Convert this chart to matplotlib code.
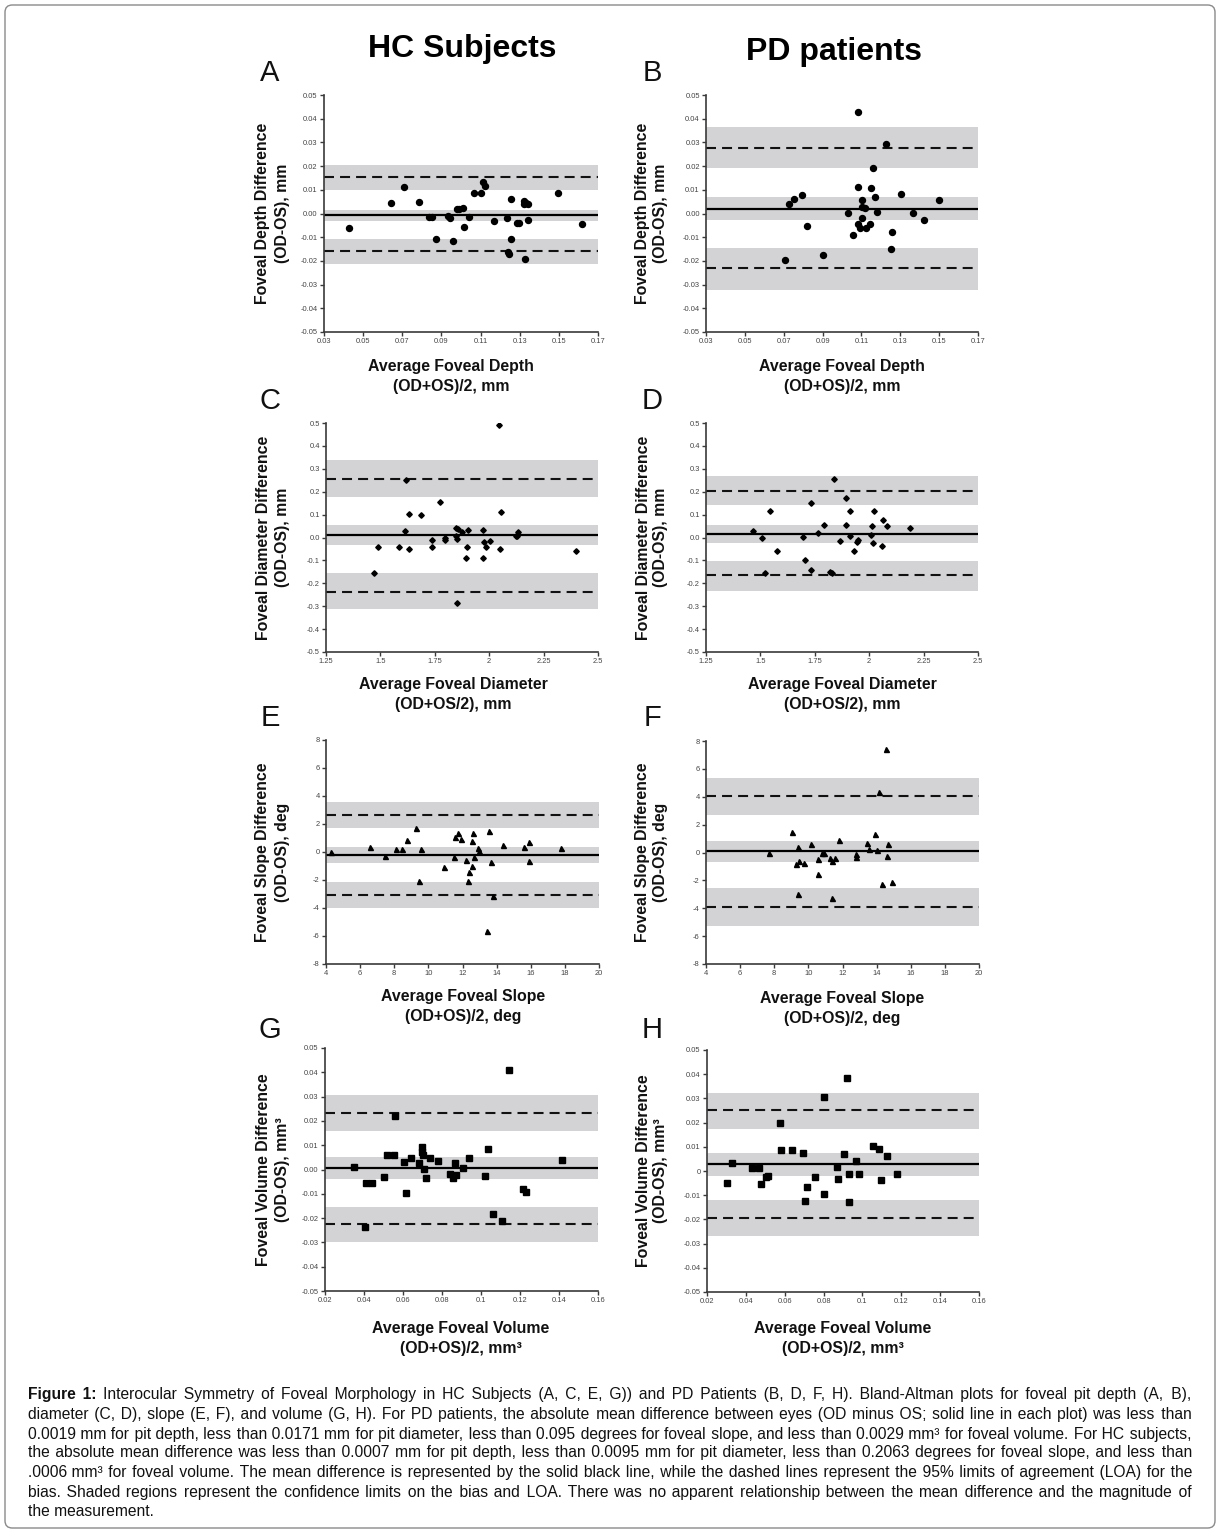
import matplotlib
matplotlib.use("Agg")
import matplotlib.pyplot as plt
from matplotlib.patches import FancyBboxPatch

plt.rcParams['font.family'] = ['Liberation Sans', 'DejaVu Sans']

# ---------------- data ----------------
hc_depth_x = [0.0428, 0.0641, 0.0711, 0.0784, 0.0837, 0.0852, 0.0871, 0.0934, 0.0945, 0.0958, 0.0982, 0.0992,
              0.1008, 0.1013, 0.1042, 0.1066, 0.1103, 0.1112, 0.1124, 0.1171, 0.1234, 0.1238, 0.1245, 0.1257,
              0.1258, 0.1286, 0.1296, 0.1320, 0.1323, 0.1333, 0.1342, 0.1326, 0.1342, 0.1494, 0.1618]
hc_depth_y = [-0.0063, 0.0046, 0.0113, 0.0048, -0.0014, -0.0014, -0.0106, -0.0011, -0.0018, -0.0117, 0.0020, 0.0020,
              0.0023, -0.0056, -0.0014, 0.0087, 0.0087, 0.0132, 0.0118, -0.0032, -0.0021, -0.0162, -0.0169, 0.0063,
              -0.0106, -0.0042, -0.0038, 0.0054, 0.0039, 0.0045, 0.0042, -0.0193, -0.0028, 0.0085, -0.0045]
hc_depth_bands = dict(up=(0.0099, 0.0203), loa_up=0.0152, mean=-0.0007, mid=(-0.0033, 0.0016),
                      loa_lo=-0.0160, lo=(-0.0213, -0.0108))

pd_depth_x = [0.0706, 0.0729, 0.0753, 0.0794, 0.0818, 0.0901, 0.1033, 0.1055, 0.1081, 0.1084, 0.1084, 0.1091,
              0.1103, 0.1103, 0.1103, 0.1120, 0.1125, 0.1144, 0.1149, 0.1159, 0.1171, 0.1180, 0.1226, 0.1252,
              0.1258, 0.1306, 0.1368, 0.1422, 0.1499]
pd_depth_y = [-0.0197, 0.0042, 0.0063, 0.0079, -0.0052, -0.0173, 0.0003, -0.0090, -0.0045, 0.0113, 0.0430, -0.0062,
              0.0056, 0.0028, -0.0017, 0.0025, -0.0062, -0.0045, 0.0107, 0.0190, 0.0068, 0.0006, 0.0293, -0.0151,
              -0.0079, 0.0082, 0.0003, -0.0028, 0.0059]
pd_depth_bands = dict(up=(0.0192, 0.0363), loa_up=0.0277, mean=0.0019, mid=(-0.0027, 0.0068),
                      loa_lo=-0.0232, lo=(-0.0322, -0.0146))

hc_diam_x = [1.469, 1.489, 1.587, 1.612, 1.619, 1.631, 1.631, 1.685, 1.738, 1.738, 1.772, 1.796, 1.799, 1.847,
             1.847, 1.851, 1.851, 1.857, 1.874, 1.895, 1.900, 1.903, 1.972, 1.972, 1.975, 1.984, 2.003, 2.047,
             2.049, 2.054, 2.125, 2.130, 2.131, 2.400]
hc_diam_y = [-0.155, -0.043, -0.040, 0.030, 0.252, 0.103, -0.052, 0.100, -0.012, -0.041, 0.154, -0.009, -0.002, 0.005,
             0.042, -0.005, -0.286, 0.037, 0.022, -0.091, -0.041, 0.031, 0.034, -0.088, -0.018, -0.041, -0.015, 0.491,
             -0.050, 0.113, 0.005, 0.008, 0.025, -0.060]
hc_diam_bands = dict(up=(0.178, 0.337), loa_up=0.255, mean=0.0095, mid=(-0.034, 0.053),
                     loa_lo=-0.238, lo=(-0.313, -0.155))

pd_diam_x = [1.466, 1.509, 1.523, 1.544, 1.578, 1.694, 1.705, 1.732, 1.732, 1.766, 1.791, 1.820, 1.828, 1.839,
             1.867, 1.893, 1.893, 1.912, 1.913, 1.932, 1.943, 1.947, 2.009, 2.015, 2.018, 2.022, 2.061, 2.065,
             2.080, 2.186]
pd_diam_y = [0.027, -0.004, -0.155, 0.117, -0.060, 0.001, -0.100, -0.140, 0.151, 0.020, 0.055, -0.151, -0.157, 0.2555,
             -0.014, 0.174, 0.055, 0.005, 0.117, -0.057, -0.021, -0.009, 0.012, 0.052, -0.024, 0.117, -0.039, 0.078,
             0.049, 0.040]
pd_diam_bands = dict(up=(0.140, 0.270), loa_up=0.2045, mean=0.0171, mid=(-0.023, 0.056),
                     loa_lo=-0.165, lo=(-0.233, -0.104))

hc_slope_x = [4.31, 6.60, 7.46, 8.11, 8.47, 8.77, 9.26, 9.44, 9.59, 10.89, 11.53, 11.56, 11.72, 11.89, 12.19, 12.35,
              12.41, 12.55, 12.58, 12.60, 12.68, 12.88, 12.97, 13.41, 13.58, 13.68, 13.78, 14.40, 15.62, 15.89,
              15.87, 17.77]
hc_slope_y = [0.0, 0.37, -0.27, 0.20, 0.18, 0.85, 1.75, -2.06, 0.25, -1.1, -0.39, 1.08, 1.35, 0.96, -0.58, -2.06,
              -1.44, -1.03, 0.8, 1.35, -0.39, 0.28, 0.09, -5.65, 1.53, -0.68, -3.17, 0.49, 0.37, 0.75,
              -0.63, 0.32]
hc_slope_bands = dict(up=(1.75, 3.6), loa_up=2.65, mean=-0.2063, mid=(-0.75, 0.37),
                      loa_lo=-3.08, lo=(-4.0, -2.14))

pd_slope_x = [7.72, 9.05, 9.27, 9.41, 9.41, 9.47, 9.74, 10.13, 10.54, 10.58, 10.79, 10.93, 11.28, 11.36, 11.40,
              11.55, 11.81, 12.81, 12.81, 13.41, 13.55, 13.88, 14.02, 14.12, 14.30, 14.53, 14.61, 14.65, 14.90]
pd_slope_y = [0.0, 1.45, -0.83, 0.40, -3.0, -0.6, -0.74, 0.64, -0.48, -1.55, 0.0, 0.0, -0.38, -0.6, -3.29,
              -0.38, 0.88, -0.12, -0.29, 0.71, 0.26, 1.33, 0.17, 4.36, -2.29, 7.43, -0.26, 0.64, -2.14]
pd_slope_bands = dict(up=(2.71, 5.38), loa_up=4.05, mean=0.095, mid=(-0.71, 0.83),
                      loa_lo=-3.90, lo=(-5.24, -2.57))

hc_vol_x = [0.0347, 0.0404, 0.0412, 0.0443, 0.0503, 0.0520, 0.0555, 0.0560, 0.0603, 0.0613, 0.0640, 0.0680,
            0.0695, 0.0697, 0.0702, 0.0707, 0.0716, 0.0738, 0.0778, 0.0841, 0.0855, 0.0868, 0.0870, 0.0909,
            0.0939, 0.1019, 0.1034, 0.1062, 0.1110, 0.1142, 0.1214, 0.1232, 0.1417]
hc_vol_y = [0.0010, -0.0237, -0.0054, -0.0057, -0.0032, 0.0061, 0.0061, 0.0222, 0.0031, -0.0096, 0.0047, 0.0028,
            0.0092, 0.0071, 0.0061, 0.0003, -0.0034, 0.0047, 0.0036, -0.0020, -0.0035, 0.0028, -0.0022, 0.0006,
            0.0047, -0.0027, 0.0086, -0.0182, -0.0212, 0.0408, -0.0080, -0.0091, 0.0039]
hc_vol_bands = dict(up=(0.0160, 0.0307), loa_up=0.0234, mean=0.0005, mid=(-0.0039, 0.0050),
                    loa_lo=-0.0224, lo=(-0.0298, -0.0155))

pd_vol_x = [0.0303, 0.0328, 0.0433, 0.0469, 0.0476, 0.0506, 0.0513, 0.0577, 0.0583, 0.0640, 0.0693, 0.0705,
            0.0717, 0.0756, 0.0804, 0.0804, 0.0867, 0.0876, 0.0903, 0.0919, 0.0931, 0.0931, 0.0968, 0.0984,
            0.1056, 0.1085, 0.1095, 0.1124, 0.1179]
pd_vol_y = [-0.0050, 0.0032, 0.0013, 0.0013, -0.0053, -0.0023, -0.0020, 0.0199, 0.0087, 0.0087, 0.0076, -0.0124,
            -0.0065, -0.0025, 0.0307, -0.0094, 0.0016, -0.0031, 0.0071, 0.0384, -0.0012, -0.0127, 0.0043, -0.0014,
            0.0104, 0.0090, -0.0039, 0.0060, -0.0012]
pd_vol_bands = dict(up=(0.0175, 0.0324), loa_up=0.0251, mean=0.0029, mid=(-0.0020, 0.0074),
                    loa_lo=-0.0195, lo=(-0.0269, -0.0119))

depth_xticks = [0.03, 0.05, 0.07, 0.09, 0.11, 0.13, 0.15, 0.17]
depth_xlabels = ['0.03', '0.05', '0.07', '0.09', '0.11', '0.13', '0.15', '0.17']
depth_yticks = [0.05, 0.04, 0.03, 0.02, 0.01, 0.0, -0.01, -0.02, -0.03, -0.04, -0.05]
depth_ylabels = ['0.05', '0.04', '0.03', '0.02', '0.01', '0.00', '-0.01', '-0.02', '-0.03', '-0.04', '-0.05']
diam_xticks = [1.25, 1.5, 1.75, 2.0, 2.25, 2.5]
diam_xlabels = ['1.25', '1.5', '1.75', '2', '2.25', '2.5']
diam_yticks = [0.5, 0.4, 0.3, 0.2, 0.1, 0.0, -0.1, -0.2, -0.3, -0.4, -0.5]
diam_ylabels = ['0.5', '0.4', '0.3', '0.2', '0.1', '0.0', '-0.1', '-0.2', '-0.3', '-0.4', '-0.5']
slope_xticks = [4, 6, 8, 10, 12, 14, 16, 18, 20]
slope_xlabels = ['4', '6', '8', '10', '12', '14', '16', '18', '20']
slope_yticks = [8, 6, 4, 2, 0, -2, -4, -6, -8]
slope_ylabels = ['8', '6', '4', '2', '0', '-2', '-4', '-6', '-8']
vol_xticks = [0.02, 0.04, 0.06, 0.08, 0.10, 0.12, 0.14, 0.16]
vol_xlabels = ['0.02', '0.04', '0.06', '0.08', '0.1', '0.12', '0.14', '0.16']
vol_yticks = [0.05, 0.04, 0.03, 0.02, 0.01, 0.0, -0.01, -0.02, -0.03, -0.04, -0.05]
hc_vol_ylabels = ['0.05', '0.04', '0.03', '0.02', '0.01', '0.00', '-0.01', '-0.02', '-0.03', '-0.04', '-0.05']
pd_vol_ylabels = ['0.05', '0.04', '0.03', '0.02', '0.01', '0', '-0.01', '-0.02', '-0.03', '-0.04', '-0.05']

titles = ['HC Subjects', 'PD patients']
panel_letters = ['A', 'B', 'C', 'D', 'E', 'F', 'G', 'H']

caption_head = ['Figure', '1:']
caption_lines = [
    "Interocular Symmetry of Foveal Morphology in HC Subjects (A, C, E, G)) and PD Patients (B, D, F, H). Bland-Altman plots for foveal pit depth (A, B),",
    "diameter (C, D), slope (E, F), and volume (G, H). For PD patients, the absolute mean difference between eyes (OD minus OS; solid line in each plot) was less than",
    "0.0019 mm for pit depth, less than 0.0171 mm for pit diameter, less than 0.095 degrees for foveal slope, and less than 0.0029 mm\u00b3 for foveal volume. For HC subjects,",
    "the absolute mean difference was less than 0.0007 mm for pit depth, less than 0.0095 mm for pit diameter, less than 0.2063 degrees for foveal slope, and less than",
    ".0006 mm\u00b3 for foveal volume. The mean difference is represented by the solid black line, while the dashed lines represent the 95% limits of agreement (LOA) for the",
    "bias. Shaded regions represent the confidence limits on the bias and LOA. There was no apparent relationship between the mean difference and the magnitude of",
    "the measurement.",
]

# ---------------- layout ----------------
W, H = 1220, 1533
DPI = 100
fig = plt.figure(figsize=(W / DPI, H / DPI), dpi=DPI)


def fx(x):
    return x / W


def fy(y):
    return 1 - y / H


def add_axes(x0, y0, x1, y1):
    return fig.add_axes([fx(x0), fy(y1), (x1 - x0) / W, (y1 - y0) / H])


BAND = '#d3d3d5'
SPINE = '#3a3a3a'
LAB_FS = 11.4


def panel(box, xs, ys, bands, marker, ms, xticks, xlabels, yticks, ylabels,
          ylab, xlab, ylab_x, xlab_cx, xlab_y):
    ax = add_axes(*box)
    ax.set_xlim(xticks[0], xticks[-1])
    ax.set_ylim(min(yticks), max(yticks))
    ax.axhspan(*bands['up'], color=BAND, lw=0, zorder=0)
    ax.axhspan(*bands['mid'], color=BAND, lw=0, zorder=0)
    ax.axhspan(*bands['lo'], color=BAND, lw=0, zorder=0)
    for v in (bands['loa_up'], bands['loa_lo']):
        ax.axhline(v, color='#111111', lw=1.5, dashes=(4.8, 2.9), zorder=1)
    ax.axhline(bands['mean'], color='#000000', lw=1.6, zorder=1)
    ax.plot(xs, ys, linestyle='none', marker=marker, ms=ms, color='#000000', mec='#000000', zorder=3)
    for s in ('top', 'right'):
        ax.spines[s].set_visible(False)
    for s in ('left', 'bottom'):
        ax.spines[s].set_color(SPINE)
        ax.spines[s].set_linewidth(1.2)
    ax.set_xticks(xticks)
    ax.set_xticklabels(xlabels)
    ax.set_yticks(yticks)
    ax.set_yticklabels(ylabels)
    ax.tick_params(axis='both', direction='out', length=3, width=1, color=SPINE,
                   labelsize=5.4, labelcolor='#444444', pad=1.5)
    ax.patch.set_alpha(0)
    cy = (box[1] + box[3]) / 2
    fig.text(fx(ylab_x[0]), fy(cy), ylab[0], rotation=90, ha='center', va='center',
             fontsize=LAB_FS, fontweight='bold', color='#111111')
    fig.text(fx(ylab_x[1]), fy(cy), ylab[1], rotation=90, ha='center', va='center',
             fontsize=LAB_FS, fontweight='bold', color='#111111')
    fig.text(fx(xlab_cx), fy(xlab_y[0]), xlab[0], ha='center', va='center',
             fontsize=LAB_FS, fontweight='bold', color='#111111')
    fig.text(fx(xlab_cx), fy(xlab_y[1]), xlab[1], ha='center', va='center',
             fontsize=LAB_FS, fontweight='bold', color='#111111')
    return ax


LY = (263, 282)
RY = (643, 661)

panel((324, 95, 598, 332), hc_depth_x, hc_depth_y, hc_depth_bands, 'o', 4.3,
      depth_xticks, depth_xlabels, depth_yticks, depth_ylabels,
      ('Foveal Depth Difference', '(OD-OS), mm'), ('Average Foveal Depth', '(OD+OS)/2, mm'),
      LY, 451, (367, 386))
panel((706, 95, 978, 332), pd_depth_x, pd_depth_y, pd_depth_bands, 'o', 4.3,
      depth_xticks, depth_xlabels, depth_yticks, depth_ylabels,
      ('Foveal Depth Difference', '(OD-OS), mm'), ('Average Foveal Depth', '(OD+OS)/2, mm'),
      RY, 842, (367, 386))
panel((326, 423, 598, 652), hc_diam_x, hc_diam_y, hc_diam_bands, 'D', 2.8,
      diam_xticks, diam_xlabels, diam_yticks, diam_ylabels,
      ('Foveal Diameter Difference', '(OD-OS), mm'), ('Average Foveal Diameter', '(OD+OS/2), mm'),
      LY, 453, (684, 705))
panel((706, 423, 978, 652), pd_diam_x, pd_diam_y, pd_diam_bands, 'D', 2.8,
      diam_xticks, diam_xlabels, diam_yticks, diam_ylabels,
      ('Foveal Diameter Difference', '(OD-OS), mm'), ('Average Foveal Diameter', '(OD+OS/2), mm'),
      RY, 842, (684, 705))
panel((326, 740, 599, 964), hc_slope_x, hc_slope_y, hc_slope_bands, '^', 3.6,
      slope_xticks, slope_xlabels, slope_yticks, slope_ylabels,
      ('Foveal Slope Difference', '(OD-OS), deg'), ('Average Foveal Slope', '(OD+OS)/2, deg'),
      LY, 463, (996, 1017))
panel((706, 741, 979, 964), pd_slope_x, pd_slope_y, pd_slope_bands, '^', 3.6,
      slope_xticks, slope_xlabels, slope_yticks, slope_ylabels,
      ('Foveal Slope Difference', '(OD-OS), deg'), ('Average Foveal Slope', '(OD+OS)/2, deg'),
      RY, 842, (998, 1019))
panel((325, 1048, 598, 1291), hc_vol_x, hc_vol_y, hc_vol_bands, 's', 4.0,
      vol_xticks, vol_xlabels, vol_yticks, hc_vol_ylabels,
      ('Foveal Volume Difference', '(OD-OS), mm\u00b3'), ('Average Foveal Volume', '(OD+OS)/2, mm\u00b3'),
      LY, 461, (1328, 1348))
panel((707, 1050, 979, 1292), pd_vol_x, pd_vol_y, pd_vol_bands, 's', 4.0,
      vol_xticks, vol_xlabels, vol_yticks, pd_vol_ylabels,
      ('Foveal Volume Difference', '(OD-OS), mm\u00b3'), ('Average Foveal Volume', '(OD+OS)/2, mm\u00b3'),
      RY, 843, (1328, 1348))

# column titles
fig.text(fx(462), fy(49), titles[0], ha='center', va='center', fontsize=23, fontweight='bold')
fig.text(fx(834), fy(52), titles[1], ha='center', va='center', fontsize=23, fontweight='bold')

# panel letters
letter_pos = [(270, 73), (652, 73), (270, 401), (652, 401), (270, 718), (652, 718), (270, 1030), (652, 1030)]
for L, (lx, ly) in zip(panel_letters, letter_pos):
    fig.text(fx(lx), fy(ly), L, ha='center', va='center', fontsize=21, color='#111111')

# border
border = FancyBboxPatch((fx(5), fy(1528)), (1215 - 5) / W, (1528 - 5) / H,
                        boxstyle='round,pad=0,rounding_size=0.006', transform=fig.transFigure,
                        fill=False, ec='#8a8a8a', lw=1.0, mutation_aspect=W / H)
fig.patches.append(border)

# ---------------- caption: justified real text lines ----------------
renderer = fig.canvas.get_renderer()
CAP_FAM = ['Liberation Sans', 'DejaVu Sans']
HS = '\u200a'  # hair space used to widen word gaps
left, right = 28, 1192
target = right - left
line_y = [1395, 1414, 1434, 1453, 1472, 1492, 1511]


def measure(s, bold=False, fs=10.0):
    t = fig.text(0, 0, s, fontsize=fs, fontweight='bold' if bold else 'normal', family=CAP_FAM)
    w = t.get_window_extent(renderer).width
    t.remove()
    return w


def gap_width(k, fs):
    return measure('a ' + HS * k + 'b', False, fs) - measure('ab', False, fs)


def join(words, ks):
    s = words[0]
    for w, k in zip(words[1:], ks):
        s += ' ' + HS * k + w
    return s


def spread(K, n):
    return [int((j + 1) * K // n) - int(j * K // n) for j in range(n)]


def head_and_rest(i, ks, fs):
    """returns list of (string, bold, x_offset) pieces and total width"""
    if i == 0:
        nh = len(caption_head) - 1
        head = join(caption_head, ks[:nh])
        rest = join(caption_lines[0].split(' '), ks[nh + 1:])
        wh = measure(head, True, fs)
        g = gap_width(ks[nh], fs)
        wr = measure(rest, False, fs)
        return [(head, True, 0.0), (rest, False, wh + g)], wh + g + wr
    s = join(caption_lines[i].split(' '), ks)
    return [(s, False, 0.0)], measure(s, False, fs)


def n_gaps(i):
    n = len(caption_lines[i].split(' ')) - 1
    return n + len(caption_head) if i == 0 else n


ref_fs = 10.0
nat = [head_and_rest(i, [0] * n_gaps(i), ref_fs)[1] for i in range(len(caption_lines) - 1)]
CAP_FS = min(12.0, ref_fs * target * 0.99 / max(nat))
hw = max(0.3, (gap_width(20, CAP_FS) - gap_width(0, CAP_FS)) / 20.0)

for i in range(len(caption_lines)):
    n = n_gaps(i)
    ks = [0] * n
    if i < len(caption_lines) - 1:
        _, wid = head_and_rest(i, ks, CAP_FS)
        K = max(0, int(round((target - wid) / hw)))
        for _ in range(3):
            ks = spread(K, n)
            _, wid = head_and_rest(i, ks, CAP_FS)
            dK = int(round((target - wid) / hw))
            if dK == 0:
                break
            K = max(0, K + dK)
    pieces, _ = head_and_rest(i, ks, CAP_FS)
    base = line_y[i] + 4.5
    for s, b, off in pieces:
        fig.text(fx(left + off), fy(base), s, fontsize=CAP_FS, fontweight='bold' if b else 'normal',
                 family=CAP_FAM, ha='left', va='baseline', color='#111111')

fig.savefig('out.png', dpi=DPI)
